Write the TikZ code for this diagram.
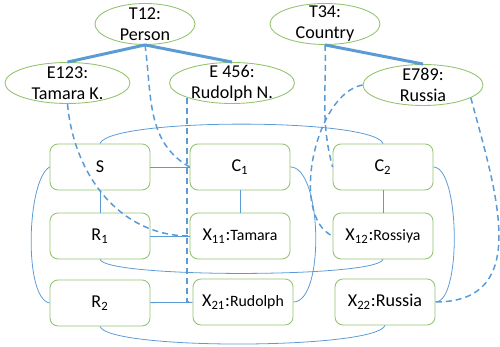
\documentclass[tikz,border=0pt]{standalone}
\usepackage{fontspec}
\setmainfont{Carlito}
\usetikzlibrary{shapes.geometric, positioning}
\definecolor{linkblue}{RGB}{91,155,213}
\definecolor{boxgreen}{RGB}{146,196,110}

\begin{document}
\begin{tikzpicture}[
        typenode/.style={ellipse, draw=boxgreen, line width=0.5pt, align=center,
            inner xsep=0pt, inner ysep=-2.6pt, minimum height=0.82cm,
            font=\fontsize{10.3}{12}\selectfont},
        cell/.style={rectangle, rounded corners=0.16cm, draw=boxgreen, line width=0.5pt,
            minimum width=2cm, minimum height=0.92cm, font=\fontsize{10.3}{12}\selectfont},
        isa/.style={linkblue, line width=1.7pt},
        link/.style={linkblue, line width=0.85pt, dash pattern=on 3.4pt off 2.3pt},
        edge/.style={linkblue, line width=0.45pt}]

        \useasboundingbox (0,0) rectangle (10,6.94);

        % Types and entities
        \node[typenode, minimum width=2cm] (T12) at (2.9, 6.46) {T12:\\Person};
        \node[typenode, minimum width=2.2cm] (T34) at (6.5, 6.46) {T34:\\Country};
        \node[typenode, minimum width=2.5cm] (E123) at (1.35, 5.28) {E123:\\Tamara K.};
        \node[typenode, minimum width=2.5cm] (E456) at (4.64, 5.28) {E 456:\\Rudolph N.};
        \node[typenode, minimum width=2.4cm] (E789) at (8.46, 5.24) {E789:\\Russia};

        % Cells
        \node[cell] (S) at (2, 3.6) {S};
        \node[cell] (C1) at (4.8, 3.6) {C\textsubscript{1}};
        \node[cell] (C2) at (7.66, 3.6) {C\textsubscript{2}};
        \node[cell] (R1) at (2, 2.22) {R\textsubscript{1}};
        \node[cell] (X11) at (4.8, 2.22) {X\textsubscript{11}:{\small Tamara}};
        \node[cell] (X12) at (7.66, 2.22) {X\textsubscript{12}:{\small Rossiya}};
        \node[cell] (R2) at (2, 0.88) {R\textsubscript{2}};
        \node[cell] (X21) at (4.86, 0.9) {X\textsubscript{21}:{\small Rudolph}};
        \node[cell] (X22) at (7.7, 0.9) {X\textsubscript{22}:Russia};

        % Type -- entity
        \draw[isa] (T12.south) -- (E123.north);
        \draw[isa] (T12.south) -- (E456.north);
        \draw[isa] (T34.south) -- (E789.north);

        % Dashed mappings
        \draw[link] (T12.south) to[out=-82, in=150] (C1.west);
        \draw[link] (E123.south) to[out=-85, in=180] (X11.west);
        \draw[link] (E456.198) |- (X21.west);
        \draw[link] (T34.south) to[out=-88, in=105] (C2.west);
        \draw[link] (E789.west) to[out=190, in=155, looseness=0.8] (X12.west);
        \draw[link] (E789.345) to[out=-75, in=0, looseness=1.2] (X22.east);

        % Cell links
        \draw[edge] (S.north) to[out=70, in=110, looseness=0.25] (C2.north);
        \draw[edge] (S) -- (C1);
        \draw[edge] (S) -- (R1);
        \draw[edge] (C1) -- (X11);
        \draw[edge] (C2) -- (X12);
        \draw[edge] (R1) -- (X11);
        \draw[edge] (R2) -- (X21);
        \draw[edge] (S.west) to[out=210, in=170, looseness=0.5] (R2.west);
        \draw[edge] (R1.south) to[out=-70, in=-110, looseness=0.18] (X12.south);
        \draw[edge] (R2.south) to[out=-70, in=-110, looseness=0.23] (X22.south);
        \draw[edge] (C1.east) to[out=0, in=0, looseness=0.6] (X21.east);
        \draw[edge] (C2.east) to[out=0, in=0, looseness=0.5] (X22.east);

\end{tikzpicture}
\end{document}
